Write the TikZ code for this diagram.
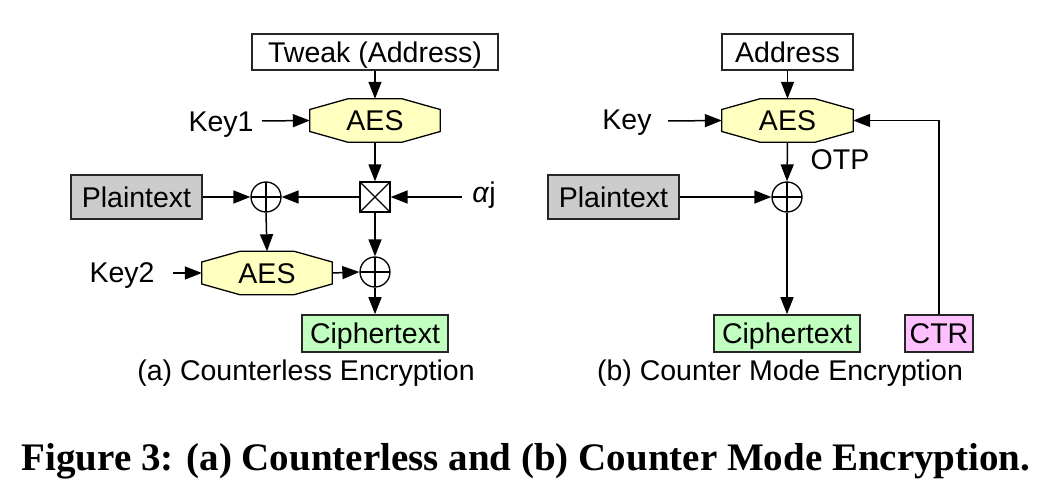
\documentclass[tikz,border=0pt]{standalone}
\usepackage{fontspec}
\setmainfont{Liberation Sans}
\newfontfamily\capfont{Liberation Serif}
\usetikzlibrary{arrows.meta,calc,backgrounds}
\definecolor{aesY}{HTML}{FFFFC0}
\definecolor{plainG}{HTML}{CCCCCC}
\definecolor{cipherG}{HTML}{C0FFC0}
\definecolor{ctrP}{HTML}{FFC0FF}
\newcommand\octagonfor[1]{%
  \begin{scope}[on background layer]
  \filldraw[fill=aesY,draw=black,line width=1.3pt]
    ($(#1.west)+(0,-11)$) -- ($(#1.north west)+(38,0)$) -- ($(#1.north east)+(-38,0)$) --
    ($(#1.east)+(0,-11)$) -- ($(#1.east)+(0,11)$) -- ($(#1.south east)+(-38,0)$) --
    ($(#1.south west)+(38,0)$) -- ($(#1.west)+(0,11)$) -- cycle;
  \end{scope}}
\begin{document}
\begin{tikzpicture}[x=1pt,y=-1pt,
  txt/.style={font=\fontsize{28.5}{34}\selectfont, inner sep=0pt},
  boxed/.style={txt, draw=black!85, line width=1.6pt, text height=20.4pt, text depth=0pt, minimum height=#1},
  boxed/.default=37pt,
  aesnode/.style={txt, minimum width=130pt, minimum height=43pt, text height=20.4pt, text depth=0pt},
  xorn/.style={circle, draw, line width=1.3pt, minimum size=30pt, inner sep=0pt,
    path picture={\draw[line width=1.3pt] (path picture bounding box.north) -- (path picture bounding box.south)
      (path picture bounding box.west) -- (path picture bounding box.east);}},
  muln/.style={rectangle, draw, line width=1.3pt, minimum size=30pt, inner sep=0pt,
    path picture={\draw[line width=1.1pt] (path picture bounding box.north west) -- (path picture bounding box.south east)
      (path picture bounding box.north east) -- (path picture bounding box.south west);}},
  arr/.style={-{Triangle[length=17pt,width=13pt]}, line width=1.5pt},
  lin/.style={line width=1.5pt}
]
\useasboundingbox (0,0) rectangle (1053,489);

% ---------- (a) Counterless ----------
\node[boxed=36pt, minimum width=246pt] (tweak) at (375,52) {Tweak (Address)};
\node[aesnode] (aesA) at (375,120.5) {AES};
\octagonfor{aesA}
\node[txt, anchor=base] (key1) at (221,132) {Key1};
\coordinate (key1s) at (262,121);
\node[muln] (mul) at (375,197) {};
\node[txt, anchor=base] (alpha) at (484,203) {\textit{α}j};
\coordinate (alphas) at (462,197);
\node[xorn] (xorA) at (266,197) {};
\node[boxed=44pt, minimum width=131pt, fill=plainG] (plainA) at (136.5,197) {Plaintext};
\node[aesnode] (aesB) at (267,273) {AES};
\octagonfor{aesB}
\node[txt, anchor=base] (key2) at (122,283) {Key2};
\coordinate (key2s) at (173,273);
\node[xorn] (xorB) at (375,272) {};
\node[boxed, minimum width=146pt, fill=cipherG] (cipherA) at (375,333.5) {Ciphertext};
\node[txt, anchor=base] (capA) at (306,380) {(a) Counterless Encryption};

\draw[arr] (tweak.south) -- (aesA.north);
\draw[arr] (key1s) -- (aesA.west);
\draw[arr] (aesA.south) -- (mul.north);
\draw[arr] (alphas) -- (mul.east);
\draw[arr] (mul.west) -- (xorA.east);
\draw[arr] (plainA.east) -- (xorA.west);
\draw[arr] (xorA.south) -- (aesB.north);
\draw[arr] (key2s) -- (aesB.west);
\draw[arr] (aesB.east) -- (xorB.west);
\draw[arr] (mul.south) -- (xorB.north);
\draw[arr] (xorB.south) -- (cipherA.north);

% ---------- (b) Counter Mode ----------
\node[boxed=36pt, minimum width=131pt] (addr) at (787.5,52) {Address};
\node[aesnode, minimum width=131pt] (aesC) at (787.5,120.5) {AES};
\octagonfor{aesC}
\node[txt, anchor=base] (key) at (627,130) {Key};
\coordinate (keys) at (668,121);
\node[txt, anchor=base] (otp) at (840,170) {OTP};
\node[xorn] (xorC) at (787,197) {};
\node[boxed=44pt, minimum width=131pt, fill=plainG] (plainB) at (613.5,197) {Plaintext};
\node[boxed, minimum width=146pt, fill=cipherG] (cipherB) at (787,333.5) {Ciphertext};
\node[boxed, minimum width=68pt, fill=ctrP] (ctr) at (939,333.5) {CTR};
\node[txt, anchor=base] (capB) at (780,380) {(b) Counter Mode Encryption};

\draw[arr] (addr.south) -- (aesC.north);
\draw[arr] (keys) -- (aesC.west);
\draw[arr] (aesC.south) -- (xorC.north);
\draw[arr] (plainB.east) -- (xorC.west);
\draw[arr] (xorC.south) -- (cipherB.north);
\draw[arr] (ctr.north) |- (aesC.east);

% ---------- caption ----------
\node[font=\capfont\bfseries\fontsize{39}{44}\selectfont, anchor=base, inner sep=0pt] (fig) at (526,470)
  {Figure 3: (a) Counterless and (b) Counter Mode Encryption.};
\end{tikzpicture}
\end{document}
